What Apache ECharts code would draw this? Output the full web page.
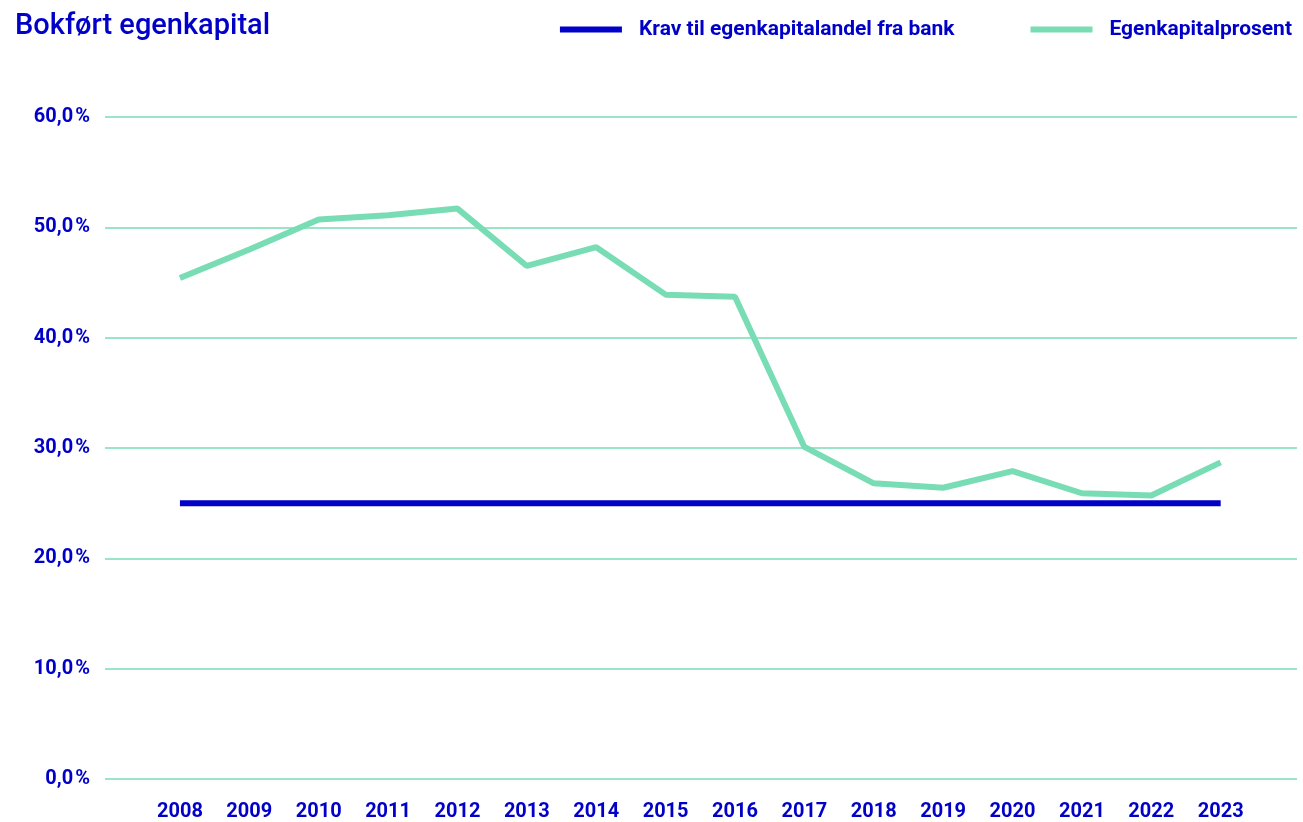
<!DOCTYPE html>
<html>
<head>
<meta charset="utf-8">
<title>Bokført egenkapital</title>
<script src="https://cdn.jsdelivr.net/npm/echarts@6/dist/echarts.min.js"></script>
<style>
    html, body { margin: 0; padding: 0; background: #fff; }
    #chart { width: 1303px; height: 822px; }
</style>
</head>
<body>
<div id="chart"></div>
<script>
    // data
    var years = [2008, 2009, 2010, 2011, 2012, 2013, 2014, 2015, 2016, 2017, 2018, 2019, 2020, 2021, 2022, 2023];
    var egenkapitalprosent = [45.4, 48.0, 50.7, 51.1, 51.7, 46.5, 48.2, 43.9, 43.7, 30.1, 26.8, 26.4, 27.9, 25.9, 25.7, 28.7];
    var kravFraBank = [25, 25, 25, 25, 25, 25, 25, 25, 25, 25, 25, 25, 25, 25, 25, 25];
    var yTicks = [0, 10, 20, 30, 40, 50, 60];

    var blue = '#0000c8';
    var green = '#78dcb4';

    function pairs(vals) {
        return years.map(function (y, i) { return [y, vals[i]]; });
    }

    var chart = echarts.init(document.getElementById('chart'));
    chart.setOption({
        animation: false,
        title: {
            text: 'Bokført egenkapital',
            left: 10,
            top: 7,
            textStyle: { color: blue, fontFamily: 'Roboto', fontWeight: 500, fontSize: 29 }
        },
        legend: {
            right: 6,
            top: 14,
            itemWidth: 62,
            itemHeight: 6,
            itemGap: 76,
            icon: 'rect',
            data: ['Krav til egenkapitalandel fra bank', 'Egenkapitalprosent'],
            textStyle: { color: blue, fontFamily: 'Roboto', fontWeight: 'bold', fontSize: 21, padding: [0, 0, 0, 12] }
        },
        grid: { left: 105, right: 6, top: 117, bottom: 43 },
        xAxis: {
            type: 'value',
            min: 2006.92,
            max: 2024.1,
            splitLine: { show: false },
            axisLine: { show: false },
            axisTick: { show: false },
            axisLabel: {
                customValues: years,
                margin: 23,
                color: blue,
                fontFamily: 'Roboto',
                fontWeight: 'bold',
                fontSize: 20,
                formatter: function (v) { return String(v); }
            }
        },
        yAxis: {
            type: 'value',
            min: yTicks[0],
            max: yTicks[yTicks.length - 1],
            interval: 10,
            axisLine: { show: false },
            axisTick: { show: false },
            splitLine: { lineStyle: { color: green, width: 1.5 } },
            axisLabel: {
                margin: 15,
                color: blue,
                fontFamily: 'Roboto',
                fontWeight: 'bold',
                fontSize: 20,
                formatter: function (v) { return v.toFixed(1).replace('.', ',') + '\u200a%'; }
            }
        },
        series: [
            {
                name: 'Krav til egenkapitalandel fra bank',
                type: 'line',
                data: pairs(kravFraBank),
                symbol: 'none',
                color: blue,
                lineStyle: { color: blue, width: 6 }
            },
            {
                name: 'Egenkapitalprosent',
                type: 'line',
                data: pairs(egenkapitalprosent),
                symbol: 'none',
                color: green,
                lineStyle: { color: green, width: 6 }
            }
        ]
    });
</script>
</body>
</html>
